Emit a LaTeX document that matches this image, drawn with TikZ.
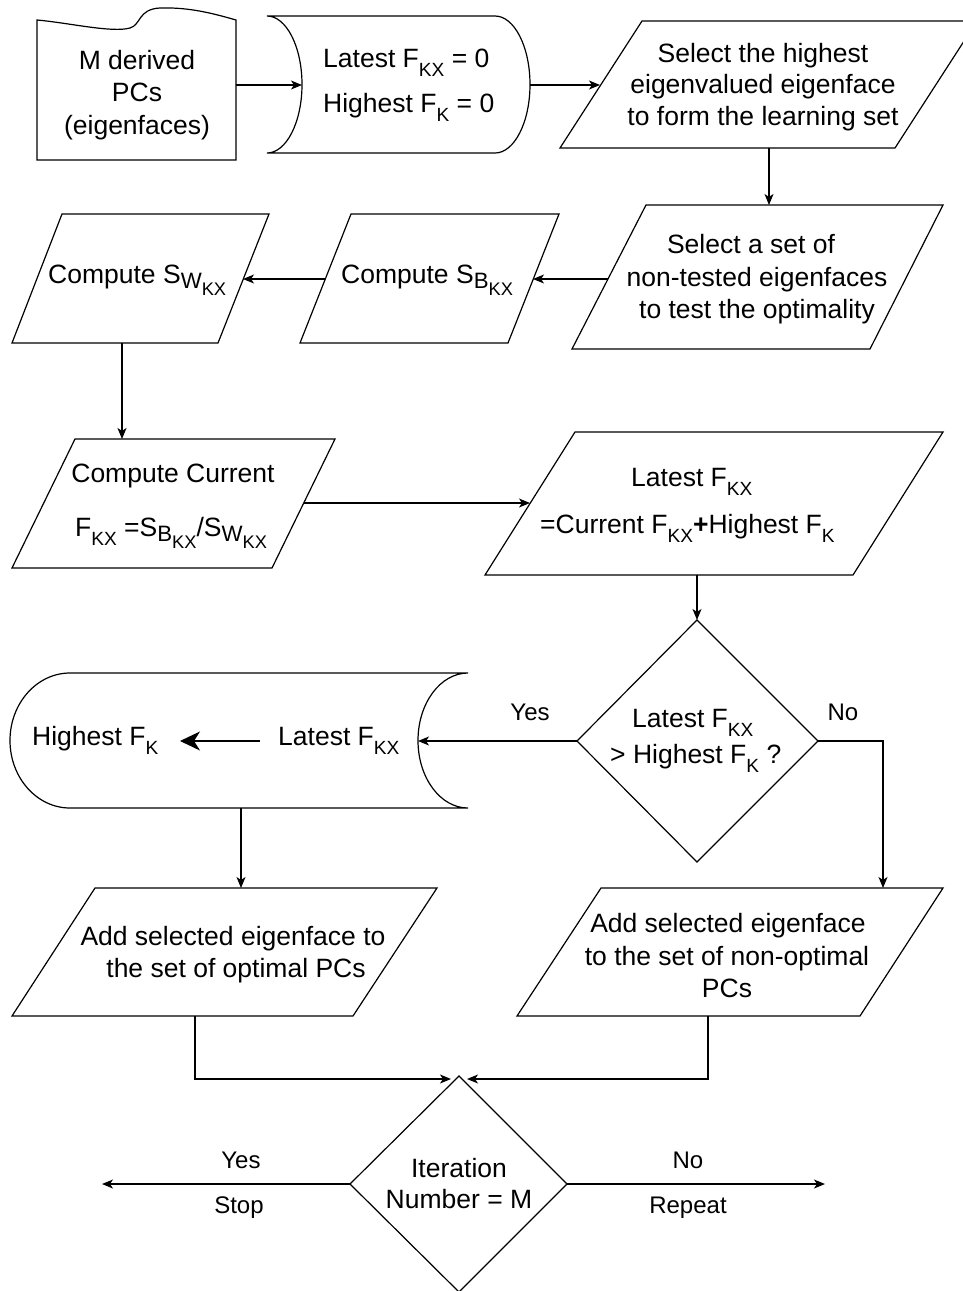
\documentclass[tikz,border=0pt]{standalone}
\usepackage{fontspec}
\setmainfont{Liberation Sans}
\usetikzlibrary{arrows.meta}
\newcommand{\mysub}[1]{\raisebox{-0.36em}{\scalebox{0.72}{#1}}}
\newcommand{\mysubb}[2]{\raisebox{-0.22em}{\scalebox{0.84}{#1\raisebox{-0.3em}{\scalebox{0.82}{#2}}}}}
\begin{document}
\begin{tikzpicture}[x=1pt,y=-1pt,
  shp/.style={draw=black, line width=1.2pt, line join=miter},
  conn/.style={draw=black, line width=1.2pt},
  arr/.style={conn, -{Stealth[length=11pt,width=9pt,inset=3pt]}},
  bigarr/.style={conn, -{Stealth[length=20pt,width=19pt,inset=6pt]}},
  txt/.style={font=\fontsize{26.5}{32}\selectfont, inner sep=0pt, anchor=base},
  lbl/.style={font=\fontsize{24}{28}\selectfont, inner sep=0pt, anchor=base}]
\useasboundingbox (0,0) rectangle (963,1291);

% ---------- shapes ----------
% document
\draw[shp] (37,160) -- (37,20) .. controls (70,23) and (112,33) .. (130,28)
  .. controls (141,25) and (138,9) .. (160,8)
  .. controls (190,7) and (215,14) .. (236,20) -- (236,160) -- cycle;
% stored data (top)
\draw[shp] (267,16) -- (495,16) .. controls (514.3,16) and (530,46.7) .. (530,84.5)
  .. controls (530,122.3) and (514.3,153) .. (495,153) -- (267,153)
  .. controls (286.3,153) and (302,122.3) .. (302,84.5)
  .. controls (302,46.7) and (286.3,16) .. (267,16) -- cycle;
% parallelograms
\draw[shp] (642,21) -- (977,21) -- (895,148) -- (560,148) -- cycle;
\draw[shp] (646,205) -- (943,205) -- (870,349) -- (572,349) -- cycle;
\draw[shp] (351,214) -- (559,214) -- (508,343) -- (300,343) -- cycle;
\draw[shp] (62,214) -- (269,214) -- (218,343) -- (12,343) -- cycle;
\draw[shp] (75,439) -- (335,439) -- (272,568) -- (12,568) -- cycle;
\draw[shp] (575,432) -- (943,432) -- (853,575) -- (485,575) -- cycle;
% decision 1
\draw[shp] (697,620) -- (818,741) -- (697,862) -- (577,741) -- cycle;
% stored data (big)
\draw[shp] (468,673) -- (70,673) .. controls (36.9,673) and (10,703.2) .. (10,740.5)
  .. controls (10,777.8) and (36.9,808) .. (70,808) -- (468,808)
  .. controls (440.4,808) and (418,777.8) .. (418,740.5)
  .. controls (418,703.2) and (440.4,673) .. (468,673) -- cycle;
% lower parallelograms
\draw[shp] (95,888) -- (437,888) -- (353,1016) -- (12,1016) -- cycle;
\draw[shp] (601,888) -- (943,888) -- (860,1016) -- (517,1016) -- cycle;
% decision 2
\draw[shp] (459,1076) -- (567,1184) -- (459,1292) -- (350,1184) -- cycle;

% ---------- texts ----------
\node[txt] (t1a) at (137,69) {M derived};
\node[txt] (t1b) at (137,101) {PCs};
\node[txt] (t1c) at (137,134) {(eigenfaces)};

\node[txt, anchor=base west] (t2a) at (323,67) {Latest F\mysub{KX} = 0};
\node[txt, anchor=base west] (t2b) at (323,112) {Highest F\mysub{K} = 0};

\node[txt] (t3a) at (763,62) {Select the highest};
\node[txt] (t3b) at (763,93) {eigenvalued eigenface};
\node[txt] (t3c) at (763,125) {to form the learning set};

\node[txt] (t4a) at (751,253) {Select a set of};
\node[txt] (t4b) at (757,286) {non-tested eigenfaces};
\node[txt] (t4c) at (757,318) {to test the optimality};

\node[txt, anchor=base west] (t5) at (341,283) {Compute S\mysubb{B}{KX}};
\node[txt, anchor=base west] (t6) at (48,283) {Compute S\mysubb{W}{KX}};

\node[txt] (t7a) at (173,482) {Compute Current};
\node[txt, anchor=base west] (t7b) at (75,536) {F\mysub{KX} =S\mysubb{B}{KX}/S\mysubb{W}{KX}};

\node[txt, anchor=base west] (t8a) at (631,486) {Latest F\mysub{KX}};
\node[txt, anchor=base west] (t8b) at (540,533) {=Current F\mysub{KX}\textbf{+}Highest F\mysub{K}};

\node[txt, anchor=base west] (t9a) at (632,727) {Latest F\mysub{KX}};
\node[txt, anchor=base west] (t9b) at (610,763) {> Highest F\mysub{K} ?};

\node[lbl] (yes1) at (530,720) {Yes};
\node[lbl] (no1) at (843,720) {No};

\node[txt, anchor=base west] (t10a) at (32,745) {Highest F\mysub{K}};
\node[txt, anchor=base west] (t10b) at (278,745) {Latest F\mysub{KX}};

\node[txt] (t11a) at (233,945) {Add selected eigenface to};
\node[txt] (t11b) at (236,977) {the set of optimal PCs};

\node[txt] (t12a) at (728,932) {Add selected eigenface};
\node[txt] (t12b) at (727,965) {to the set of non-optimal};
\node[txt] (t12c) at (727,997) {PCs};

\node[txt] (t13a) at (459,1177) {Iteration};
\node[txt] (t13b) at (459,1208) {Number = M};

\node[lbl] (yes2) at (241,1168) {Yes};
\node[lbl] (stop) at (239,1213) {Stop};
\node[lbl] (no2) at (688,1168) {No};
\node[lbl] (rep) at (688,1213) {Repeat};

% ---------- connection points ----------
\coordinate (docR) at (236,85);
\coordinate (st1L) at (302,85);
\coordinate (st1R) at (530,85);
\coordinate (p1L) at (600,85);
\coordinate (p1B) at (769,148);
\coordinate (p2T) at (769,205);
\coordinate (p2L) at (608,279);
\coordinate (p3R) at (533,279);
\coordinate (p3L) at (325,279);
\coordinate (p4R) at (243,279);
\coordinate (p4B) at (122,343);
\coordinate (p5T) at (122,439);
\coordinate (p5R) at (304,503);
\coordinate (p6L) at (530,503);
\coordinate (p6B) at (697,575);
\coordinate (d1T) at (697,620);
\coordinate (d1L) at (577,741);
\coordinate (d1R) at (818,741);
\coordinate (st2R) at (418,741);
\coordinate (st2B) at (241,808);
\coordinate (p7T) at (241,888);
\coordinate (p8T) at (883,888);
\coordinate (p7B) at (195,1016);
\coordinate (p8B) at (708,1016);
\coordinate (d2Tl) at (451,1079);
\coordinate (d2Tr) at (467,1079);
\coordinate (d2L) at (350,1184);
\coordinate (d2R) at (567,1184);
\coordinate (stopE) at (102,1184);
\coordinate (repE) at (825,1184);
\coordinate (ia1) at (260,741);
\coordinate (ia2) at (180,741);

% ---------- connectors ----------
\draw[arr] (docR) -- (st1L);
\draw[arr] (st1R) -- (p1L);
\draw[arr] (p1B) -- (p2T);
\draw[arr] (p2L) -- (p3R);
\draw[arr] (p3L) -- (p4R);
\draw[arr] (p4B) -- (p5T);
\draw[arr] (p5R) -- (p6L);
\draw[arr] (p6B) -- (d1T);
\draw[arr] (d1L) -- (st2R);
\draw[arr] (d1R) -| (p8T);
\draw[arr] (st2B) -- (p7T);
\draw[arr] (p7B) |- (d2Tl);
\draw[arr] (p8B) |- (d2Tr);
\draw[arr] (d2L) -- (stopE);
\draw[arr] (d2R) -- (repE);
\draw[bigarr] (ia1) -- (ia2);
\end{tikzpicture}
\end{document}
